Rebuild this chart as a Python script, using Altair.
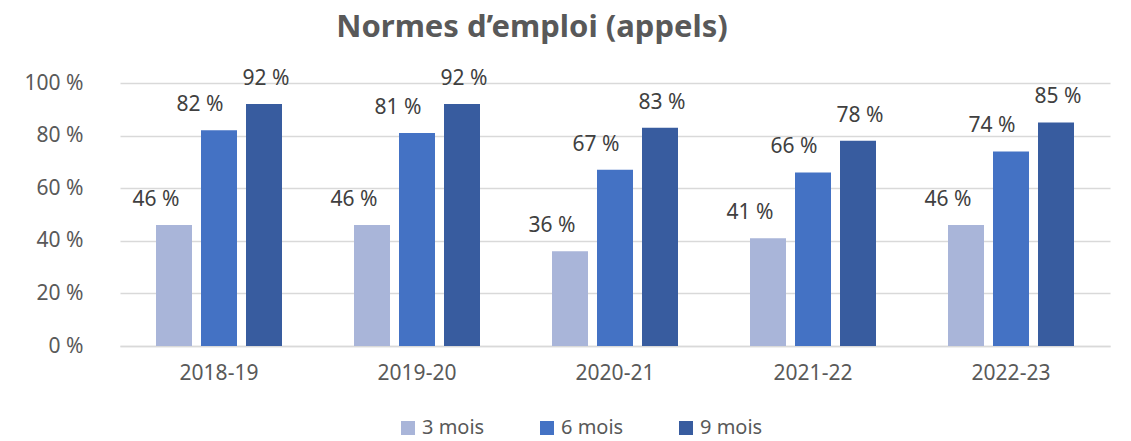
import altair as alt
import pandas as pd

years = ["2018-19", "2019-20", "2020-21", "2021-22", "2022-23"]
series = ["3 mois", "6 mois", "9 mois"]
v3 = [46, 46, 36, 41, 46]
v6 = [82, 81, 67, 66, 74]
v9 = [92, 92, 83, 78, 85]
colors = ["#A9B5D9", "#4472C4", "#385C9F"]
label_dx = [-18, -19, 2]

rows = []
for s, vals in zip(series, [v3, v6, v9]):
    for y, v in zip(years, vals):
        rows.append({"year": y, "series": s, "value": v})
df = pd.DataFrame(rows)

FONT = "Noto Sans"
GRAY = "#595959"

x = alt.X("year:N", sort=years, title=None,
          scale=alt.Scale(paddingInner=0, paddingOuter=0),
          axis=alt.Axis(labelAngle=0, labelFontSize=21, labelColor=GRAY, labelFont=FONT,
                        ticks=False, domainColor="#D9D9D9", domainWidth=1.5, labelPadding=16))
y = alt.Y("value:Q", title=None,
          scale=alt.Scale(domain=[0, 100]),
          axis=alt.Axis(values=[0, 20, 40, 60, 80, 100], labelExpr="datum.value + ' %'",
                        labelFontSize=21, labelColor=GRAY, labelFont=FONT, ticks=False,
                        domain=False, gridColor="#D9D9D9", gridWidth=1.5, labelPadding=37))
xo = alt.XOffset("series:N", sort=series,
                 scale=alt.Scale(paddingInner=0.2, paddingOuter=0.8))

bars = alt.Chart(df).mark_bar().encode(
    x=x, y=y, xOffset=xo,
    color=alt.Color("series:N", sort=series,
                    scale=alt.Scale(domain=series, range=colors),
                    legend=alt.Legend(title=None, orient="none", direction="horizontal",
                                      legendX=278, legendY=335, symbolType="square",
                                      symbolSize=196, symbolStrokeWidth=0,
                                      labelFontSize=20, labelColor=GRAY, labelFont=FONT,
                                      columnPadding=52, symbolOffset=0, labelOffset=4)),
)

texts = []
for s, d in zip(series, label_dx):
    t = alt.Chart(df).transform_filter(alt.datum.series == s).mark_text(
        baseline="alphabetic", dy=-19, dx=d, fontSize=21, color="#404040", font=FONT
    ).encode(x=x, y=y, xOffset=xo, text=alt.Text("label:N")).transform_calculate(
        label="datum.value + ' %'")
    texts.append(t)

chart = alt.layer(bars, *texts).properties(
    width=990, height=263,
    autosize=alt.AutoSizeParams(type="none"),
    padding={"left": 112, "top": 75, "right": 13, "bottom": 95},
    title=alt.TitleParams("Normes d\u2019emploi (appels)", fontSize=31, fontWeight="bold",
                          color=GRAY, font=FONT, anchor="middle", dx=-83, offset=24),
).configure_view(stroke=None)

chart.save("out.html", embed_options={"renderer": "svg", "actions": False})
